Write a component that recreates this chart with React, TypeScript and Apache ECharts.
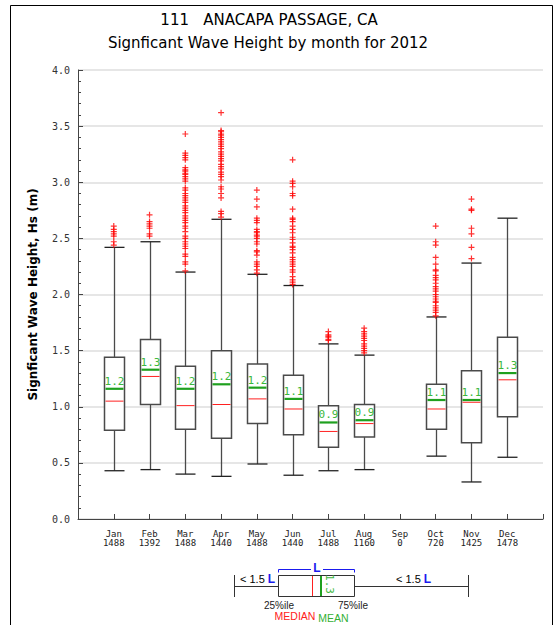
import React, { useEffect, useRef } from "react";
import * as echarts from "echarts";

const titleLine1 = "111   ANACAPA PASSAGE, CA";
const titleLine2 = "Signficant Wave Height by month for 2012";
const yAxisTitle = "Signficant Wave Height, Hs (m)";

const months = ["Jan", "Feb", "Mar", "Apr", "May", "Jun", "Jul", "Aug", "Sep", "Oct", "Nov", "Dec"];
const counts = [1488, 1392, 1488, 1440, 1488, 1440, 1488, 1160, 0, 720, 1425, 1478];

// Box statistics per month (null where the month has no records)
const lowWhisker = [0.43, 0.44, 0.40, 0.38, 0.49, 0.39, 0.43, 0.44, null, 0.56, 0.33, 0.55];
const q1 = [0.79, 1.02, 0.80, 0.72, 0.85, 0.75, 0.64, 0.73, null, 0.80, 0.68, 0.91];
const medians = [1.05, 1.27, 1.01, 1.02, 1.07, 0.98, 0.78, 0.85, null, 0.98, 1.04, 1.24];
const q3 = [1.44, 1.60, 1.36, 1.50, 1.38, 1.28, 1.01, 1.02, null, 1.20, 1.32, 1.62];
const highWhisker = [2.42, 2.47, 2.20, 2.67, 2.18, 2.08, 1.56, 1.46, null, 1.80, 2.28, 2.68];
const means = [1.16, 1.33, 1.16, 1.20, 1.17, 1.07, 0.86, 0.88, null, 1.06, 1.06, 1.30];

// Outliers beyond the upper whisker, per month
const outJan = [2.61, 2.58, 2.56, 2.54, 2.52, 2.47, 2.44];
const outFeb = [2.71, 2.65, 2.63, 2.61, 2.59, 2.54, 2.52];
const outMar = [3.43, 3.26, 3.24, 3.22, 3.20, 3.13, 3.11, 3.10, 3.08, 3.07, 3.05, 3.03, 3.01, 2.95, 2.93, 2.90, 2.88, 2.86, 2.84, 2.82, 2.79, 2.77, 2.75, 2.73, 2.70, 2.68, 2.66, 2.64, 2.61, 2.59, 2.56, 2.52, 2.50, 2.47, 2.45, 2.43, 2.41, 2.36, 2.34, 2.29, 2.27, 2.21];
const outApr = [3.62, 3.46, 3.45, 3.43, 3.42, 3.40, 3.38, 3.36, 3.34, 3.32, 3.30, 3.27, 3.25, 3.23, 3.21, 3.19, 3.16, 3.14, 3.12, 3.09, 3.07, 3.05, 3.02, 2.96, 2.94, 2.90, 2.86, 2.74, 2.72, 2.69];
const outMay = [2.93, 2.85, 2.78, 2.68, 2.66, 2.64, 2.58, 2.56, 2.55, 2.53, 2.52, 2.50, 2.47, 2.45, 2.39, 2.38, 2.35, 2.29, 2.27, 2.25, 2.22, 2.19];
const outJun = [3.20, 3.01, 2.99, 2.96, 2.90, 2.88, 2.76, 2.68, 2.67, 2.65, 2.61, 2.58, 2.55, 2.51, 2.49, 2.46, 2.43, 2.42, 2.40, 2.37, 2.33, 2.31, 2.29, 2.27, 2.25, 2.22, 2.20, 2.16, 2.13, 2.11, 2.09];
const outJul = [1.67, 1.64, 1.63, 1.62, 1.60, 1.59];
const outAug = [1.70, 1.67, 1.65, 1.63, 1.61, 1.59, 1.56, 1.54, 1.52, 1.50, 1.48];
const outSep: number[] = [];
const outOct = [2.61, 2.47, 2.44, 2.33, 2.27, 2.22, 2.21, 2.17, 2.15, 2.13, 2.10, 2.07, 2.05, 2.03, 2.00, 1.98, 1.96, 1.94, 1.93, 1.90, 1.88, 1.86, 1.84, 1.81];
const outNov = [2.85, 2.76, 2.75, 2.59, 2.54, 2.42, 2.32];
const outDec: number[] = [];
const outliers = [outJan, outFeb, outMar, outApr, outMay, outJun, outJul, outAug, outSep, outOct, outNov, outDec];

const MONO = "DejaVu Sans Mono";
const SANS = "Liberation Sans";
const GREEN = "#1fa01f";
const LABEL_GREEN = "#3cb83c";
const RED = "#ff2020";
const BLUE = "#1a1aee";
const BOX_STROKE = "#4a4a4a";

export default function App() {
  const ref = useRef<HTMLDivElement>(null);

  useEffect(() => {
    document.body.style.margin = "0";
    if (!ref.current) return;
    const chart = echarts.init(ref.current, null, { renderer: "svg" });

    const boxData: number[][] = [];
    months.forEach((_, i) => {
      if (counts[i] > 0 && medians[i] != null) {
        boxData.push([i + 1, lowWhisker[i] as number, q1[i] as number, medians[i] as number, q3[i] as number, highWhisker[i] as number, means[i] as number]);
      }
    });

    const outlierData: number[][] = [];
    outliers.forEach((list, i) => list.forEach((v) => outlierData.push([i + 1, v])));

    const renderBox = (params: any, api: any) => {
      const x = api.value(0);
      const pLow = api.coord([x, api.value(1)]);
      const pQ1 = api.coord([x, api.value(2)]);
      const pMed = api.coord([x, api.value(3)]);
      const pQ3 = api.coord([x, api.value(4)]);
      const pHigh = api.coord([x, api.value(5)]);
      const pMean = api.coord([x, api.value(6)]);
      const cx = Math.round(pMed[0]) + 0.5;
      const half = Math.round(api.size([1, 0])[0] * 0.28);
      const ln = (x1: number, y1: number, x2: number, y2: number, stroke: string, w: number) => ({
        type: "line",
        shape: { x1, y1, x2, y2 },
        style: { stroke, lineWidth: w },
      });
      const meanVal: number = api.value(6);
      return {
        type: "group",
        children: [
          ln(cx, pHigh[1], cx, pQ3[1], BOX_STROKE, 1.3),
          ln(cx, pQ1[1], cx, pLow[1], BOX_STROKE, 1.3),
          ln(cx - half, pHigh[1], cx + half, pHigh[1], "#222", 1.3),
          ln(cx - half, pLow[1], cx + half, pLow[1], "#222", 1.3),
          {
            type: "rect",
            shape: { x: cx - half, y: pQ3[1], width: half * 2, height: pQ1[1] - pQ3[1] },
            style: { fill: "#fff", stroke: BOX_STROKE, lineWidth: 1.5 },
          },
          ln(cx - half + 1, pMed[1], cx + half - 1, pMed[1], RED, 1),
          ln(cx - half + 1, pMean[1], cx + half - 1, pMean[1], GREEN, 2.2),
          {
            type: "text",
            style: {
              text: meanVal.toFixed(1),
              x: cx,
              y: pMean[1] - 2,
              align: "center",
              verticalAlign: "bottom",
              fill: LABEL_GREEN,
              fontFamily: MONO,
              fontSize: 11,
            },
          },
        ],
      };
    };

    const lg = (x1: number, y1: number, x2: number, y2: number, stroke: string, w = 1) => ({
      type: "line",
      shape: { x1, y1, x2, y2 },
      style: { stroke, lineWidth: w },
    });
    const txt = (text: string, x: number, y: number, fill: string, size: number, extra: any = {}) => ({
      type: "text",
      x,
      y,
      style: { text, x: 0, y: 0, fill, fontSize: size, fontFamily: SANS, align: "center", verticalAlign: "middle", ...extra },
    });
    const limitText = (x: number) => ({
      type: "text",
      x,
      y: 579,
      style: {
        text: "{a|< 1.5 }{b|L}",
        x: 0,
        y: 0,
        align: "left",
        verticalAlign: "middle",
        rich: {
          a: { fill: "#000", fontSize: 11, fontFamily: SANS },
          b: { fill: BLUE, fontSize: 12, fontFamily: SANS, fontWeight: "bold" },
        },
      },
    });

    const graphic: any[] = [
      // outer frame
      { type: "rect", shape: { x: 10.5, y: 5.5, width: 542, height: 700 }, style: { fill: "none", stroke: "#000", lineWidth: 1 }, z: -1 },
      txt(titleLine1, 269, 20, "#000", 15, { fontFamily: "DejaVu Sans" }),
      txt(titleLine2, 268, 43, "#000", 15, { fontFamily: "DejaVu Sans" }),
      // key diagram
      lg(234.5, 575, 234.5, 597, "#333"),
      lg(234.5, 586.5, 278.5, 586.5, "#333"),
      { type: "rect", shape: { x: 278.5, y: 575.5, width: 76, height: 21 }, style: { fill: "#fff", stroke: "#333", lineWidth: 1 } },
      lg(312.5, 576, 312.5, 596, RED),
      lg(321, 576, 321, 596, GREEN, 2),
      {
        type: "text",
        x: 329,
        y: 584,
        rotation: -Math.PI / 2,
        style: { text: "1.3", x: 0, y: 0, fill: LABEL_GREEN, fontSize: 11, fontFamily: MONO, align: "center", verticalAlign: "middle" },
      },
      lg(354.5, 586.5, 468.5, 586.5, "#333"),
      lg(468.5, 575, 468.5, 597, "#333"),
      limitText(240),
      limitText(396),
      { type: "polyline", shape: { points: [[278.5, 572.5], [278.5, 569.5], [311, 569.5]] }, style: { stroke: BLUE, fill: "none", lineWidth: 1 } },
      { type: "polyline", shape: { points: [[323, 569.5], [354.5, 569.5], [354.5, 572.5]] }, style: { stroke: BLUE, fill: "none", lineWidth: 1 } },
      txt("L", 317, 568, BLUE, 12, { fontWeight: "bold" }),
      txt("25%ile", 279, 605.5, "#222", 10, { lineHeight: 9 }),
      txt("75%ile", 353, 605.5, "#222", 10, { lineHeight: 9 }),
      txt("MEDIAN", 295, 615.5, RED, 10.5, { lineHeight: 9 }),
      txt("MEAN", 333.5, 617.5, "#33b033", 10.5, { lineHeight: 9 }),
    ];

    chart.setOption({
      animation: false,
      backgroundColor: "#fff",
      grid: { left: 78, right: 14, top: 70, bottom: 106 },
      xAxis: {
        type: "value",
        min: 0,
        max: 13,
        interval: 1,
        axisLine: { show: true, lineStyle: { color: "#444" } },
        axisTick: { show: true, inside: true, length: 5, lineStyle: { color: "#444" } },
        splitLine: { show: false },
        axisLabel: {
          showMinLabel: true,
          showMaxLabel: true,
          formatter: (v: number) => (v >= 1 && v <= 12 ? `${months[v - 1]}\n${counts[v - 1]}` : ""),
          fontFamily: MONO,
          fontSize: 9,
          lineHeight: 9,
          color: "#222",
          margin: 10,
        },
      },
      yAxis: {
        type: "value",
        min: 0,
        max: 4,
        interval: 0.5,
        name: yAxisTitle,
        nameLocation: "middle",
        nameGap: 39,
        nameTextStyle: { fontFamily: "DejaVu Sans", fontWeight: "bold", fontSize: 12, color: "#000" },
        axisLine: { show: true, lineStyle: { color: "#444" } },
        axisTick: { show: true, inside: true, length: 5, lineStyle: { color: "#444" } },
        minorTick: { show: true, splitNumber: 5, length: 3, lineStyle: { color: "#444" } },
        splitLine: { show: true, lineStyle: { color: "#dedede", width: 1.5 } },
        axisLabel: {
          formatter: (v: number) => v.toFixed(1),
          fontFamily: MONO,
          fontSize: 10,
          color: "#333",
          margin: 8,
        },
      },
      series: [
        {
          type: "custom",
          renderItem: renderBox,
          encode: { x: 0, y: [1, 5] },
          data: boxData,
          z: 3,
        },
        {
          type: "scatter",
          data: outlierData,
          symbol: "path://M2,0H3V2H5V3H3V5H2V3H0V2H2Z",
          symbolSize: 6,
          itemStyle: { color: "#ff0000", opacity: 0.8 },
          z: 4,
        },
      ],
      graphic,
    });

    return () => chart.dispose();
  }, []);

  return <div ref={ref} style={{ width: 557, height: 625 }} />;
}
